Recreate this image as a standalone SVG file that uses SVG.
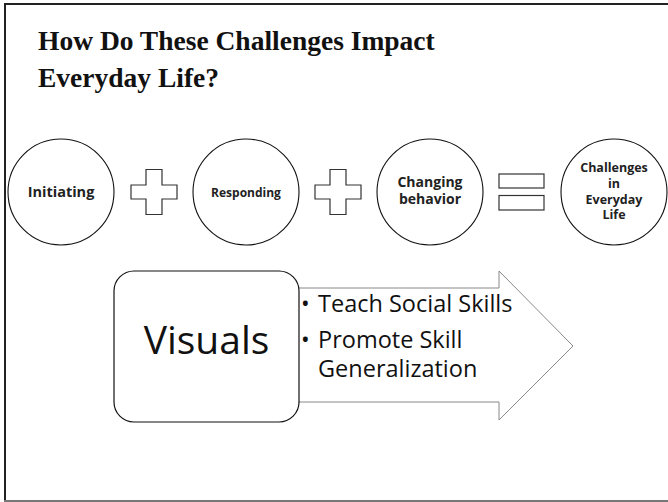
<svg xmlns="http://www.w3.org/2000/svg" width="668" height="502" viewBox="0 0 668 502">
<style>
.title{font-family:"Liberation Serif","Times New Roman",serif;font-weight:bold;font-size:27.5px;fill:#111}
.node{fill:#fff;stroke:#111;stroke-width:1.1}
.lbl{font-family:"Open Sans","Noto Sans",sans-serif;font-weight:bold;fill:#222;text-anchor:middle}
.op{fill:#fff;stroke:#333;stroke-width:1.2}
.body{font-family:"Open Sans","Noto Sans",sans-serif;fill:#111}
</style>
<rect x="0" y="0" width="668" height="502" fill="#fff"/>
<g id="frame">
<line x1="5" y1="3" x2="5" y2="501" stroke="#222" stroke-width="2"/>
<line x1="4" y1="4" x2="668" y2="4" stroke="#222" stroke-width="2"/>
<line x1="4" y1="501" x2="668" y2="501" stroke="#777" stroke-width="2"/>
</g>
<g id="title">
<text class="title" x="38" y="50">How Do These Challenges Impact</text>
<text class="title" x="38" y="87">Everyday Life?</text>
</g>
<g id="initiating">
<circle class="node" cx="61" cy="192" r="53"/>
<text class="lbl" x="61" y="197" font-size="14.5">Initiating</text>
</g>
<g id="plus1">
<path class="op" d="M146,169.5 H162 V185 H177 V199 H162 V214.5 H146 V199 H131 V185 H146 Z"/>
</g>
<g id="responding">
<circle class="node" cx="246" cy="192" r="53"/>
<text class="lbl" x="246" y="197" font-size="12">Responding</text>
</g>
<g id="plus2">
<path class="op" d="M330,169.5 H346 V185 H361 V199 H346 V214.5 H330 V199 H315 V185 H330 Z"/>
</g>
<g id="changing">
<circle class="node" cx="430" cy="192" r="53"/>
<text class="lbl" x="430" y="186.5" font-size="14">Changing</text>
<text class="lbl" x="430" y="204" font-size="14">behavior</text>
</g>
<g id="equals">
<rect class="op" x="499" y="174" width="45" height="14"/>
<rect class="op" x="499" y="195.5" width="45" height="14.5"/>
</g>
<g id="challenges">
<circle class="node" cx="614" cy="192" r="53"/>
<text class="lbl" x="614" y="172" font-size="12.5">Challenges</text>
<text class="lbl" x="614" y="187.5" font-size="12.5">in</text>
<text class="lbl" x="614" y="203.5" font-size="12.5">Everyday</text>
<text class="lbl" x="614" y="219" font-size="12.5">Life</text>
</g>
<g id="arrow">
<polygon points="290,288 499,288 499,271 573,346 499,420 499,402 290,402" fill="#fff" stroke="#888" stroke-width="1"/>
<text class="body" x="301" y="312" font-size="23">•</text>
<text class="body" x="318" y="312" font-size="23.5">Teach Social Skills</text>
<text class="body" x="301" y="348" font-size="23">•</text>
<text class="body" x="318" y="348" font-size="23.5">Promote Skill</text>
<text class="body" x="318" y="377" font-size="23.5">Generalization</text>
</g>
<g id="visuals">
<rect x="114" y="271" width="185" height="151" rx="20" ry="20" fill="#fff" stroke="#111" stroke-width="1.2"/>
<text class="body" x="206.5" y="354" font-size="39" text-anchor="middle">Visuals</text>
</g>
</svg>
